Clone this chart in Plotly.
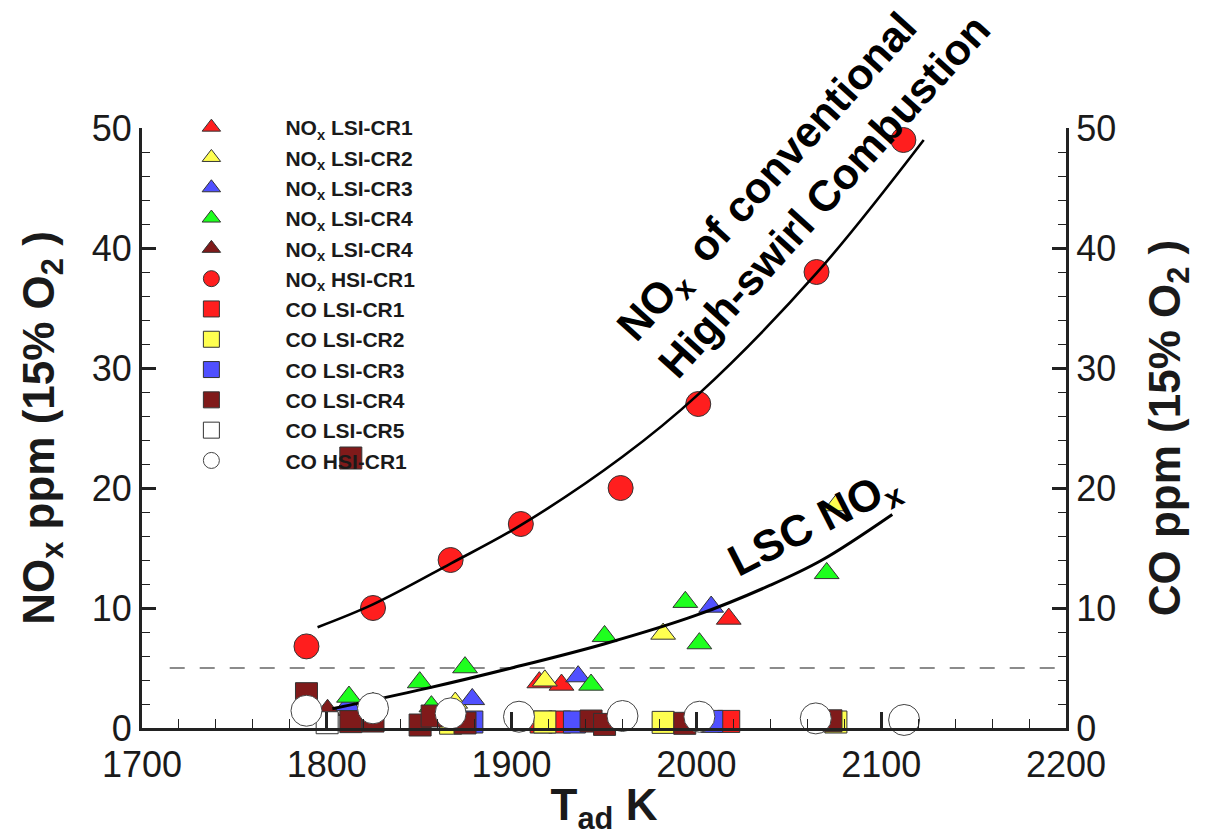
import plotly.graph_objects as go

# ---------------- data ----------------
# NOx, low-swirl injector cases (triangles)
nox_cr1_x = [1915, 1927, 2017.5]
nox_cr1_y = [3.8, 3.6, 9.1]
nox_cr2_x = [1869.5, 1918, 1982, 2075.5]
nox_cr2_y = [2.1, 3.95, 7.85, 18.55]
nox_cr3_x = [1811.5, 1878.7, 1936, 2008]
nox_cr3_y = [1.9, 2.4, 4.3, 10.1]
nox_cr4_x = [1812, 1825, 1850.3, 1856.6, 1874.8, 1943, 1950.3, 1994, 2001.6, 2070.5]
nox_cr4_y = [2.6, 2.1, 3.8, 1.8, 5.05, 3.6, 7.65, 10.5, 7.05, 12.9]
nox_cr5_x = [1800.4]
nox_cr5_y = [1.5]
# NOx, high-swirl injector (red circles)
nox_hsi_x = [1789, 1825, 1867, 1905, 1959, 2001, 2065, 2112]
nox_hsi_y = [6.8, 10, 14, 17, 20, 27, 38, 49]

# CO (squares / open circles)
co_cr1_x = [1916, 1926, 2017.5]
co_cr1_y = [0.5, 0.5, 0.55]
co_cr2_x = [1867, 1918, 1982, 2075.5]
co_cr2_y = [0.4, 0.5, 0.47, 0.5]
co_cr3_x = [1878.5, 1934, 2008.3]
co_cr3_y = [0.5, 0.5, 0.55]
co_cr4_x = [1789, 1813, 1813, 1825, 1850.5, 1857, 1874.8, 1943, 1950.3, 1993.7, 2072.8]
co_cr4_y = [2.86, 22.5, 0.53, 0.58, 0.25, 1.0, 0.42, 0.58, 0.3, 0.39, 0.6]
co_cr5_x = [1800.2]
co_cr5_y = [0.44]
co_hsi_x = [1789, 1825, 1867, 1904, 1960, 2001.6, 2064.6, 2112.4]
co_hsi_y = [1.44, 1.64, 1.22, 0.94, 1.0, 0.94, 0.8, 0.67]

# fitted curves
hsi_fit_x = [1795, 1825, 1867, 1905, 1960, 2001, 2065, 2123]
hsi_fit_y = [8.4, 10.3, 13.7, 16.9, 22.6, 27.8, 37.9, 49.0]
lsc_fit_x = [1803, 1854, 1900, 1950, 2000, 2040, 2068, 2106]
lsc_fit_y = [1.6, 3.3, 5.0, 7.0, 9.4, 11.9, 14.0, 17.8]

# 5 ppm reference level
ref_x = [1715, 2195]
ref_y = [5, 5]

x_ticks = [1700, 1800, 1900, 2000, 2100, 2200]
y_ticks = [0, 10, 20, 30, 40, 50]

# ---------------- styling ----------------
RED = "#ff1e1e"
YEL = "#ffff50"
BLU = "#5050ff"
GRN = "#1eff1e"
BRN = "#801a1a"
WHT = "#ffffff"
EDGE = "#333333"
FONT = "Arial, Liberation Sans, Helvetica, sans-serif"
TXT = "#1a1a1a"

fig = go.Figure()

fig.add_trace(go.Scatter(x=ref_x, y=ref_y, mode="lines", showlegend=False,
                         line=dict(color="#666666", width=1.3, dash="15px,15px"),
                         hoverinfo="skip"))

def tri(name, xs, ys, color):
    fig.add_trace(go.Scatter(
        x=xs, y=ys, mode="markers", name=name, cliponaxis=False,
        marker=dict(symbol="triangle-up", size=21.5, color=color,
                    line=dict(color=EDGE, width=1))))

tri("NO<sub>x</sub> LSI-CR1", nox_cr1_x, nox_cr1_y, RED)
tri("NO<sub>x</sub> LSI-CR2", nox_cr2_x, nox_cr2_y, YEL)
tri("NO<sub>x</sub> LSI-CR3", nox_cr3_x, nox_cr3_y, BLU)
tri("NO<sub>x</sub> LSI-CR4", nox_cr4_x, nox_cr4_y, GRN)
tri("NO<sub>x</sub> LSI-CR4", nox_cr5_x, nox_cr5_y, BRN)

fig.add_trace(go.Scatter(
    x=nox_hsi_x, y=nox_hsi_y, mode="markers", name="NO<sub>x</sub> HSI-CR1",
    cliponaxis=False,
    marker=dict(symbol="circle", size=25, color=RED, line=dict(color=EDGE, width=1))))

fig.add_trace(go.Scatter(x=hsi_fit_x, y=hsi_fit_y, mode="lines", showlegend=False,
                         line=dict(color="black", width=2.6, shape="spline"),
                         hoverinfo="skip"))
fig.add_trace(go.Scatter(x=lsc_fit_x, y=lsc_fit_y, mode="lines", showlegend=False,
                         line=dict(color="black", width=3, shape="spline"),
                         hoverinfo="skip"))

def sq(name, xs, ys, color):
    fig.add_trace(go.Scatter(
        x=xs, y=ys, mode="markers", name=name, yaxis="y2", cliponaxis=False,
        marker=dict(symbol="square", size=22, color=color,
                    line=dict(color=EDGE, width=1))))

sq("CO LSI-CR1", co_cr1_x, co_cr1_y, RED)
sq("CO LSI-CR2", co_cr2_x, co_cr2_y, YEL)
sq("CO LSI-CR3", co_cr3_x, co_cr3_y, BLU)
sq("CO LSI-CR4", co_cr4_x, co_cr4_y, BRN)
sq("CO LSI-CR5", co_cr5_x, co_cr5_y, WHT)

fig.add_trace(go.Scatter(
    x=co_hsi_x, y=co_hsi_y, mode="markers", name="CO HSI-CR1", yaxis="y2",
    cliponaxis=False,
    marker=dict(symbol="circle", size=31, color=WHT, line=dict(color="#444444", width=1))))

axis_common = dict(
    showgrid=False, zeroline=False, showline=True, linewidth=3, linecolor="#222222",
    ticks="inside", tickcolor="#222222", tickfont=dict(family=FONT, size=36, color=TXT),
)

fig.update_layout(
    width=1210, height=836,
    margin=dict(l=142, r=144, t=128, b=108, autoexpand=False),
    paper_bgcolor="white", plot_bgcolor="white",
    font=dict(family=FONT, color=TXT),
    xaxis=dict(range=[1700, 2200], tickvals=x_ticks, ticklen=16, tickwidth=2.5,
               ticklabelstandoff=3,
               minor=dict(dtick=20, tick0=1700, ticklen=9, tickwidth=1.2,
                          ticks="inside", tickcolor="#222222"),
               title=dict(text="T<sub>ad</sub> K", standoff=2,
                          font=dict(family=FONT, size=44, weight="bold", color=TXT)),
               **axis_common),
    yaxis=dict(range=[0, 50], tickvals=y_ticks, ticklen=14, tickwidth=2.5,
               minor=dict(dtick=2, tick0=0, ticklen=8, tickwidth=1.2,
                          ticks="inside", tickcolor="#222222"),
               title=dict(text="NO<sub>x</sub> ppm (15% O<sub>2</sub> )", standoff=24,
                          font=dict(family=FONT, size=44, weight="bold", color=TXT)),
               **axis_common),
    yaxis2=dict(range=[0, 50], tickvals=y_ticks, ticklen=14, tickwidth=2.5,
                overlaying="y", side="right", anchor="x",
                minor=dict(dtick=2, tick0=0, ticklen=8, tickwidth=1.2,
                           ticks="inside", tickcolor="#222222"),
                title=dict(text="CO ppm (15% O<sub>2</sub> )", standoff=34,
                           font=dict(family=FONT, size=44, weight="bold", color=TXT)),
                **axis_common),
    legend=dict(x=-0.005, y=1.035, xanchor="left", yanchor="top",
                bgcolor="rgba(0,0,0,0)", borderwidth=0, itemwidth=138,
                tracegroupgap=0,
                font=dict(family=FONT, size=21, weight="bold", color=TXT)),
    showlegend=True,
)

fig.add_annotation(
    x=2058, y=45.9, xref="x", yref="y", showarrow=False, textangle=-48,
    align="left",
    text="NO<sub>x</sub>  of conventional<br>High-swirl Combustion",
    font=dict(family=FONT, size=43, weight="bold", color="black"))
fig.add_annotation(
    x=2064, y=16.9, xref="x", yref="y", showarrow=False, textangle=-27,
    text="LSC NO<sub>x</sub>",
    font=dict(family=FONT, size=44, weight="bold", color="black"))

fig.write_html("out.html", config={"displayModeBar": False},
               post_script="document.body.style.margin='0';document.body.style.overflow='hidden';")
